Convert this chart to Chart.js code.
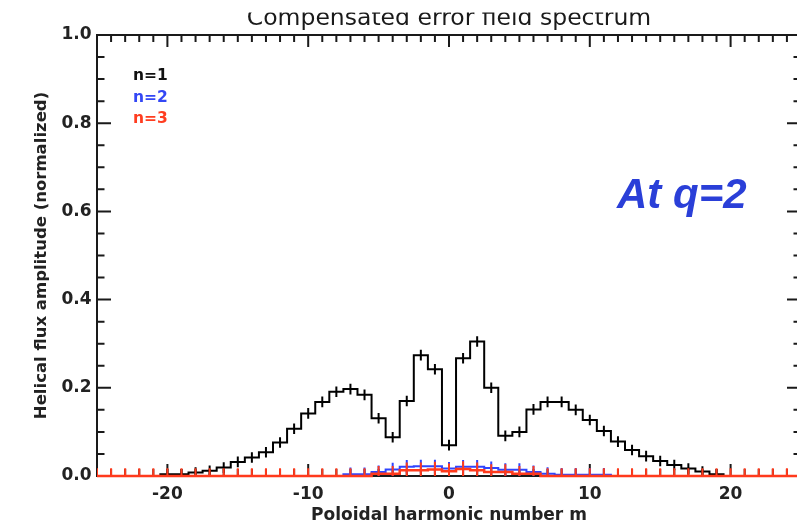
<!DOCTYPE html>
<html><head><meta charset="utf-8">
<script src="https://cdn.jsdelivr.net/npm/chart.js@4.4.1/dist/chart.umd.min.js"></script>
<style>
html,body{margin:0;padding:0;background:#fff;overflow:hidden;width:797px;height:527px}
#wrap{position:absolute;left:0;top:0;width:806px;height:527px}
</style></head><body>
<div id="wrap"><canvas id="c" width="806" height="527"></canvas></div>
<script>
// ---- data ----
const harmonicM = [-25,-24,-23,-22,-21,-20,-19,-18,-17,-16,-15,-14,-13,-12,-11,-10,-9,-8,-7,-6,-5,-4,-3,-2,-1,0,1,2,3,4,5,6,7,8,9,10,11,12,13,14,15,16,17,18,19,20,21,22,23,24,25];
const n1Amplitude = [0,0,0,0,0,0.004,0.004,0.008,0.012,0.019,0.032,0.042,0.054,0.076,0.107,0.142,0.168,0.191,0.197,0.184,0.131,0.088,0.170,0.274,0.242,0.070,0.267,0.305,0.200,0.091,0.100,0.151,0.168,0.168,0.150,0.127,0.102,0.078,0.059,0.045,0.034,0.025,0.017,0.010,0.004,0,0,0,0,0,0];
const n2Amplitude = [0,0,0,0,0,0,0,0,0,0,0,0,0,0,0,0,0,0,0.004,0.004,0.009,0.015,0.021,0.022,0.022,0.017,0.021,0.021,0.018,0.014,0.014,0.009,0.005,0.003,0.003,0.003,0.003,0,0,0,0,0,0,0,0,0,0,0,0,0,0];
const n3Amplitude = [0,0,0,0,0,0,0,0,0,0,0,0,0,0,0,0,0,0,0,0,0.005,0.005,0.013,0.013,0.015,0.011,0.016,0.013,0.009,0.009,0.005,0.005,0,0,0,0,0,0,0,0,0,0,0,0,0,0,0,0,0,0,0];
const n1Error = [null,null,null,null,null,0.012,0.012,0.012,0.012,0.012,0.012,0.012,0.012,0.012,0.012,0.012,0.012,0.012,0.012,0.012,0.012,0.012,0.012,0.012,0.012,0.012,0.012,0.012,0.012,0.012,0.012,0.012,0.012,0.012,0.012,0.012,0.012,0.012,0.012,0.012,0.012,0.012,0.012,0.012,0.012,null,null,null,null,null,null];
const n2Error = [null,null,null,null,null,null,null,null,null,null,null,null,null,null,null,null,null,null,0.015,0.015,0.015,0.015,0.015,0.015,0.015,0.015,0.015,0.015,0.015,0.015,0.015,0.015,0.015,0.015,0.015,0.015,0.015,null,null,null,null,null,null,null,null,null,null,null,null,null,null];
const n3Error = [0.0175,0.0175,0.0175,0.0175,0.0175,0.0175,0.0175,0.0175,0.0175,0.0175,0.0175,0.0175,0.0175,0.0175,0.0175,0.0175,0.0175,0.0175,0.0175,0.0175,0.0175,0.0175,0.0175,0.0175,0.0175,0.0175,0.0175,0.0175,0.0175,0.0175,0.0175,0.0175,0.0175,0.0175,0.0175,0.0175,0.0175,0.0175,0.0175,0.0175,0.0175,0.0175,0.0175,0.0175,0.0175,0.0175,0.0175,0.0175,0.0175,0.0175,0.0175];
const seriesLabels = ['n=1','n=2','n=3'];
const xTickValues = [-20,-10,0,10,20];
const yTickValues = [0,0.2,0.4,0.6,0.8,1.0];
const chartTitle = 'Compensated error field spectrum';
const xTitle = 'Poloidal harmonic number m';
const yTitle = 'Helical flux amplitude (normalized)';
const noteText = 'At q=2';

// ---- styling ----
const COLORS = ['#000000', '#2f45ff', '#ff3a1c'];
const LEGEND_COLORS = ['#111111', '#3347f5', '#ff3d20'];
const FONT = 'DejaVu Sans';
const CLIP = {left: 5, top: 5, right: 5, bottom: 5};

function toPoints(vals) { return harmonicM.map((m, i) => ({x: m, y: vals[i]})); }

const framePlugin = {
  id: 'frame',
  beforeDatasetsDraw(chart) {
    const {ctx, chartArea: a, scales: {x, y}} = chart;
    ctx.save();
    ctx.strokeStyle = '#1a1a1a';
    ctx.lineWidth = 2;
    ctx.beginPath();
    for (let m = x.min; m <= x.max; m++) {
      const px = x.getPixelForValue(m);
      const len = xTickValues.includes(m) ? 12 : 7;
      ctx.moveTo(px, a.top); ctx.lineTo(px, a.top + len);
      ctx.moveTo(px, a.bottom); ctx.lineTo(px, a.bottom - len);
    }
    for (let i = 0; i <= 20; i++) {
      const py = y.getPixelForValue(i * 0.05);
      const len = (i % 4 === 0) ? 14 : 7.5;
      ctx.moveTo(a.left, py); ctx.lineTo(a.left + len, py);
      ctx.moveTo(a.right, py); ctx.lineTo(a.right - len, py);
    }
    ctx.stroke();
    ctx.strokeRect(a.left, a.top, a.right - a.left, a.bottom - a.top);
    ctx.restore();
  }
};

const errorBarPlugin = {
  id: 'errbars',
  afterDatasetDraw(chart, args) {
    const ds = chart.data.datasets[args.index];
    if (!ds.errors) return;
    const {ctx, chartArea: a, scales: {x, y}} = chart;
    ctx.save();
    ctx.beginPath();
    ctx.rect(a.left, a.top, a.right - a.left, a.bottom - a.top);
    ctx.clip();
    ctx.strokeStyle = ds.borderColor;
    ctx.lineWidth = 2;
    ctx.beginPath();
    ds.data.forEach((p, i) => {
      const e = ds.errors[i];
      if (e == null) return;
      const px = x.getPixelForValue(p.x);
      ctx.moveTo(px, y.getPixelForValue(p.y - e));
      ctx.lineTo(px, y.getPixelForValue(p.y + e));
    });
    ctx.stroke();
    ctx.restore();
  }
};

const textPlugin = {
  id: 'texts',
  afterDraw(chart) {
    const {ctx, chartArea: a} = chart;
    ctx.save();
    // top of the title is cut in the reference
    ctx.fillStyle = '#ffffff';
    ctx.fillRect(a.left, 0, a.right - a.left, 12.5);
    // legend text
    ctx.font = 'bold 15.5px "' + FONT + '"';
    ctx.textAlign = 'left';
    ctx.textBaseline = 'middle';
    const ly = [76, 97.5, 119];
    seriesLabels.forEach((t, i) => {
      ctx.fillStyle = LEGEND_COLORS[i];
      ctx.fillText(t, 133, ly[i]);
    });
    // annotation
    ctx.font = 'italic bold 42px "Liberation Sans"';
    ctx.fillStyle = '#2a3fd8';
    ctx.textBaseline = 'alphabetic';
    ctx.fillText(noteText, 617, 208);
    ctx.restore();
  }
};

const tickFont = {family: FONT, size: 17, weight: 'bold'};

new Chart(document.getElementById('c').getContext('2d'), {
  type: 'line',
  data: {
    datasets: [
      {label: seriesLabels[0], data: toPoints(n1Amplitude), errors: n1Error, borderColor: COLORS[0], borderWidth: 2, stepped: 'middle', pointRadius: 0, fill: false, order: 3, clip: CLIP},
      {label: seriesLabels[1], data: toPoints(n2Amplitude), errors: n2Error, borderColor: COLORS[1], borderWidth: 2, stepped: 'middle', pointRadius: 0, fill: false, order: 2, clip: CLIP},
      {label: seriesLabels[2], data: toPoints(n3Amplitude), errors: n3Error, borderColor: COLORS[2], borderWidth: 2.5, stepped: 'middle', pointRadius: 0, fill: false, order: 1, clip: CLIP}
    ]
  },
  options: {
    responsive: false,
    animation: false,
    devicePixelRatio: 1,
    layout: {padding: {top: 0, left: 0, right: 5, bottom: 0}},
    plugins: {
      legend: {display: false},
      tooltip: {enabled: false},
      title: {
        display: true, text: chartTitle, fullSize: false,
        font: {family: FONT, size: 23.5, weight: 'normal'},
        color: '#1a1a1a',
        padding: {top: 4.7, bottom: 2.1}
      }
    },
    scales: {
      x: {
        type: 'linear', min: -25, max: 25,
        grid: {display: false, drawTicks: false},
        border: {display: false},
        afterBuildTicks: s => { s.ticks = xTickValues.map(v => ({value: v})); },
        afterFit: s => { s.height = 51; },
        ticks: {padding: 8.8, font: tickFont, color: '#222', maxRotation: 0, autoSkip: false, callback: v => String(v)},
        title: {display: true, text: xTitle, color: '#222', font: {family: FONT, size: 17, weight: 'bold'}, padding: {top: 0, bottom: 0.8}}
      },
      y: {
        type: 'linear', min: 0, max: 1,
        grid: {display: false, drawTicks: false},
        border: {display: false},
        afterBuildTicks: s => { s.ticks = yTickValues.map(v => ({value: v})); },
        afterFit: s => { s.width = 97; },
        ticks: {padding: 5.5, font: tickFont, color: '#222', autoSkip: false, callback: v => Number(v).toFixed(1)},
        title: {display: true, text: yTitle, color: '#222', font: {family: FONT, size: 16.5, weight: 'bold'}, padding: {top: 32, bottom: 0}}
      }
    }
  },
  plugins: [framePlugin, errorBarPlugin, textPlugin]
});
</script>
</body></html>
